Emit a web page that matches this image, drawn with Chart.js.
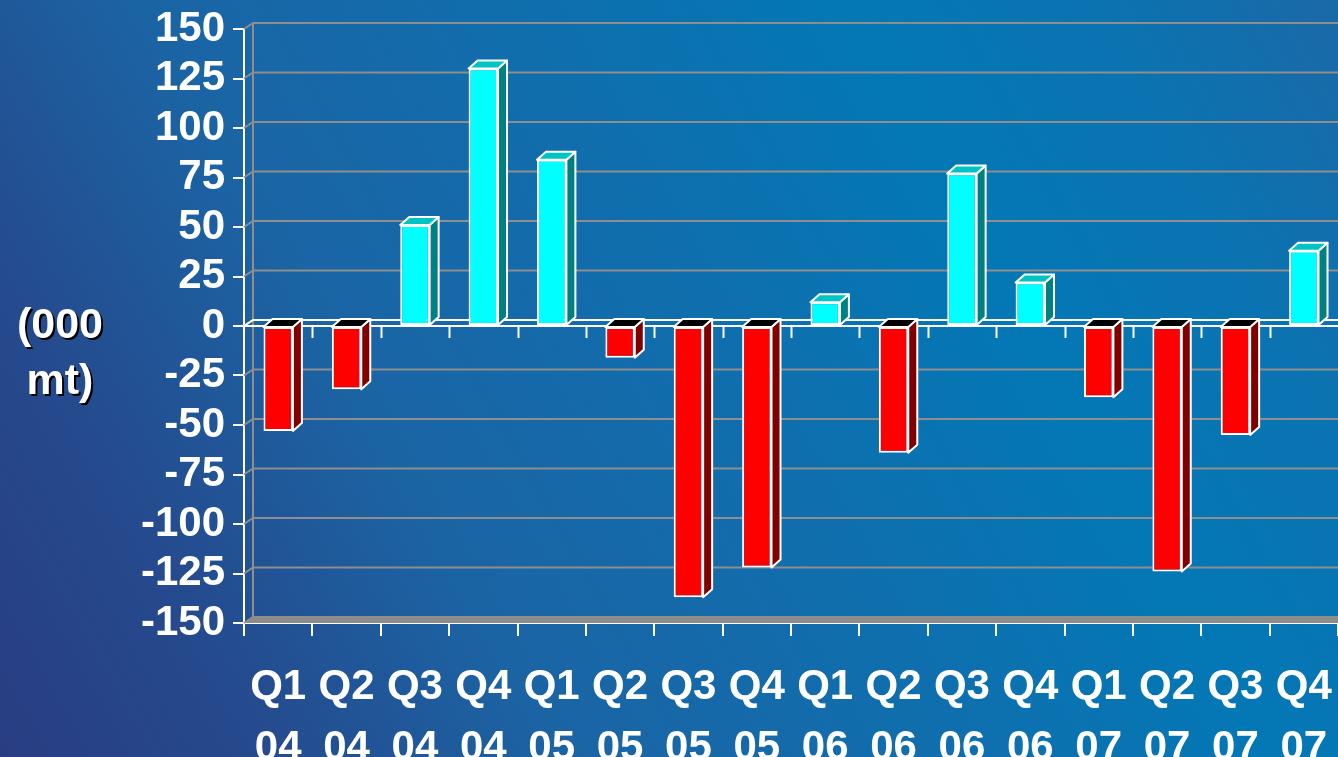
<!DOCTYPE html>
<html>
<head>
<meta charset="utf-8">
<script src="https://cdn.jsdelivr.net/npm/chart.js@4.4.1/dist/chart.umd.min.js"></script>
<style>
  html, body { margin: 0; padding: 0; background: #1a6aa8; overflow: hidden; }
  #wrap { width: 1338px; height: 757px; position: relative; }
</style>
</head>
<body>
<div id="wrap"><canvas id="c" width="1338" height="757"></canvas></div>
<script>
// ---- data ----
const quarters = ['Q1','Q2','Q3','Q4','Q1','Q2','Q3','Q4','Q1','Q2','Q3','Q4','Q1','Q2','Q3','Q4'];
const years    = ['04','04','04','04','05','05','05','05','06','06','06','06','07','07','07','07'];
const values   = [-53, -32, 51, 130, 84, -16, -137, -122, 12, -64, 77, 22, -36, -124, -55, 38];
const yMin = -150, yMax = 150, yStep = 25;
const axisTitle = ['(000', 'mt)'];

// ---- styles ----
const FONT = "'Liberation Sans', Arial, sans-serif";
const POS = { front: '#00ffff', side: '#008080', top: '#00c4c4' };
const NEG = { front: '#ff0000', side: '#800000', top: '#000000' };
const WALL_DX = 9, WALL_DY = 6, BAR_DX = 9, BAR_DY = 8;

const labels = quarters.map((q, i) => [q, years[i]]);

const deco = {
  id: 'deco',
  beforeDraw(chart) {
    const { ctx, width, height } = chart;
    const g = ctx.createLinearGradient(0, height, width, 0);
    g.addColorStop(0.00, '#293d83');
    g.addColorStop(0.15, '#254a8d');
    g.addColorStop(0.32, '#1b64a4');
    g.addColorStop(0.55, '#0f6fae');
    g.addColorStop(0.72, '#0378b5');
    g.addColorStop(0.86, '#0b73b1');
    g.addColorStop(1.00, '#1b69a7');
    ctx.save();
    ctx.fillStyle = g;
    ctx.fillRect(0, 0, width, height);
    ctx.restore();
  },
  beforeDatasetsDraw(chart) {
    const { ctx, chartArea: a, scales: { x, y } } = chart;
    ctx.save();
    ctx.lineWidth = 2;
    // floor
    ctx.fillStyle = '#8c8c8c';
    ctx.beginPath();
    ctx.moveTo(a.left, a.bottom);
    ctx.lineTo(a.left + WALL_DX, a.bottom - WALL_DY);
    ctx.lineTo(a.right + WALL_DX, a.bottom - WALL_DY);
    ctx.lineTo(a.right, a.bottom);
    ctx.closePath();
    ctx.fill();
    // back gridlines
    ctx.strokeStyle = '#8e8e8e';
    y.ticks.forEach(t => {
      const py = y.getPixelForValue(t.value);
      ctx.beginPath();
      ctx.moveTo(a.left, py);
      ctx.lineTo(a.left + WALL_DX, py - WALL_DY);
      ctx.lineTo(a.right + WALL_DX, py - WALL_DY);
      ctx.stroke();
    });
    // back wall vertical
    ctx.beginPath();
    ctx.moveTo(a.left + WALL_DX, y.getPixelForValue(yMax) - WALL_DY);
    ctx.lineTo(a.left + WALL_DX, y.getPixelForValue(yMin) - WALL_DY);
    ctx.stroke();
    // zero plane
    const z = y.getPixelForValue(0);
    ctx.strokeStyle = '#ffffff';
    ctx.beginPath();
    ctx.moveTo(a.left, z);
    ctx.lineTo(a.left + WALL_DX, z - WALL_DY);
    ctx.lineTo(a.right + WALL_DX, z - WALL_DY);
    ctx.stroke();
    ctx.beginPath();
    ctx.moveTo(a.left, z);
    ctx.lineTo(a.right, z);
    ctx.stroke();
    for (let i = 1; i < labels.length; i++) {
      const px = Math.round(x.getPixelForValue(i - 0.5)) + 0.5;
      ctx.beginPath();
      ctx.moveTo(px, z);
      ctx.lineTo(px, z + 12);
      ctx.stroke();
    }
    // 3D faces of bars
    const meta = chart.getDatasetMeta(0);
    ctx.lineJoin = 'round';
    meta.data.forEach((bar, i) => {
      const v = values[i];
      const c = v >= 0 ? POS : NEG;
      const l = bar.x - bar.width / 2, r = bar.x + bar.width / 2;
      const topY = Math.min(bar.y, bar.base), botY = Math.max(bar.y, bar.base);
      // side
      ctx.fillStyle = c.side;
      ctx.beginPath();
      ctx.moveTo(r, topY);
      ctx.lineTo(r + BAR_DX, topY - BAR_DY);
      ctx.lineTo(r + BAR_DX, botY - BAR_DY);
      ctx.lineTo(r, botY);
      ctx.closePath();
      ctx.fill(); ctx.stroke();
      // top
      ctx.fillStyle = c.top;
      ctx.beginPath();
      ctx.moveTo(l, topY);
      ctx.lineTo(l + BAR_DX, topY - BAR_DY);
      ctx.lineTo(r + BAR_DX, topY - BAR_DY);
      ctx.lineTo(r, topY);
      ctx.closePath();
      ctx.fill(); ctx.stroke();
    });
    ctx.restore();
  },
  afterDraw(chart) {
    const { ctx, scales: { y } } = chart;
    ctx.save();
    ctx.font = 'bold 43px ' + FONT;
    ctx.textAlign = 'center';
    ctx.textBaseline = 'middle';
    ctx.shadowColor = '#000000';
    ctx.shadowOffsetX = 2;
    ctx.shadowOffsetY = 2;
    ctx.fillStyle = '#ffffff';
    const cy = y.getPixelForValue(0);
    ctx.fillText(axisTitle[0], 60, cy);
    ctx.fillText(axisTitle[1], 60, cy + 56);
    ctx.restore();
  }
};

new Chart(document.getElementById('c'), {
  type: 'bar',
  data: {
    labels: labels,
    datasets: [{
      data: values,
      backgroundColor: ctx => (ctx.raw >= 0 ? POS.front : NEG.front),
      borderColor: '#ffffff',
      borderWidth: 2,
      borderSkipped: false,
      barPercentage: 0.43,
      categoryPercentage: 1
    }]
  },
  options: {
    responsive: false,
    animation: false,
    events: [],
    layout: { padding: { top: 28, right: -3, bottom: 0, left: 0 } },
    plugins: { legend: { display: false }, tooltip: { enabled: false } },
    scales: {
      x: {
        grid: { display: true, drawOnChartArea: false, color: '#ffffff', lineWidth: 2, tickLength: 13, offset: true },
        border: { display: true, color: '#ffffff', width: 2 },
        ticks: {
          color: '#ffffff', autoSkip: false, maxRotation: 0, padding: 21,
          font: { family: FONT, size: 42, weight: 'bold', lineHeight: 1.45 }
        },
        afterFit(scale) { scale.height = 134; scale.paddingLeft = 0; scale.paddingRight = 0; }
      },
      y: {
        min: yMin, max: yMax,
        grid: { display: true, drawOnChartArea: false, color: '#ffffff', lineWidth: 2, tickLength: 11 },
        border: { display: true, color: '#ffffff', width: 2 },
        ticks: {
          stepSize: yStep, autoSkip: false, color: '#ffffff', padding: 8,
          font: { family: FONT, size: 42, weight: 'bold', lineHeight: 1.0 }
        },
        afterFit(scale) { scale.width = 244; }
      }
    }
  },
  plugins: [deco]
});
</script>
</body>
</html>
